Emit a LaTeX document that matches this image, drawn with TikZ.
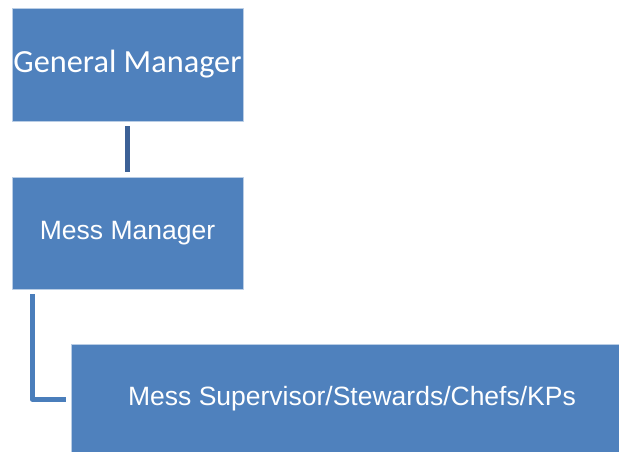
\documentclass[tikz,border=0pt]{standalone}
\usepackage{fontspec}
\setsansfont{Liberation Sans}
\newfontfamily\calibrifont{Carlito}
\definecolor{boxblue}{RGB}{79,129,189}
\definecolor{boxedge}{RGB}{185,205,229}
\definecolor{linkdark}{RGB}{60,97,150}
\definecolor{linkblue}{RGB}{74,126,187}
\begin{document}
\begin{tikzpicture}[x=1pt,y=-1pt, % one unit = one pixel, y going down
	line join=round,
	box/.style={rectangle,fill=boxblue,draw=boxedge,line width=0.8pt,text=white,inner sep=0pt},
	link/.style={line width=5pt,shorten <=5pt,shorten >=5pt}]
	\useasboundingbox (0,0) rectangle (619,452);
	\node[box,minimum width=231pt,minimum height=113pt,font=\calibrifont\fontsize{32.3}{36}\selectfont] (gm) at (127.5,64.5) {General Manager};
	\node[box,minimum width=231pt,minimum height=112pt,font=\sffamily\fontsize{26.5}{31}\selectfont] (mm) at (127.5,233) {Mess Manager};
	\node[box,minimum width=562pt,minimum height=110pt,font=\sffamily\fontsize{26.5}{31}\selectfont] (sup) at (352,399) {\raisebox{-2pt}{Mess Supervisor/Stewards/Chefs/KPs}};
	\draw[link,linkdark] (gm)--(mm);
	\draw[link,linkblue,shorten <=0pt] ([xshift=20.5pt,yshift=-5pt]mm.south west) |- (sup.west);
\end{tikzpicture}
\end{document}
